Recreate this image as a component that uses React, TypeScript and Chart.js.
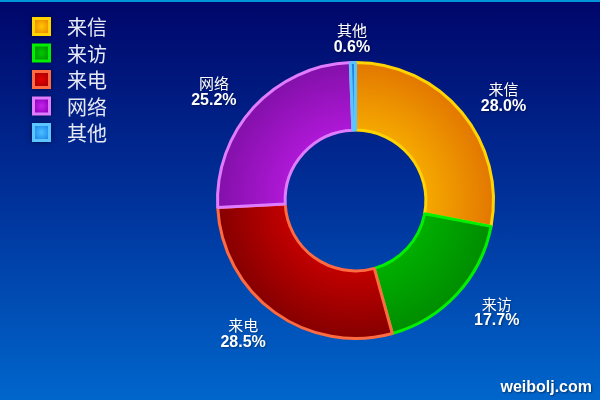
import { useEffect, useRef } from 'react';
import { Chart, ArcElement, DoughnutController } from 'chart.js';

Chart.register(ArcElement, DoughnutController);

const categories = ['来信', '来访', '来电', '网络', '其他'];
const shares = [28.0, 17.7, 28.5, 25.2, 0.6];
const borderColors = ['#ffd400', '#00f000', '#ff6a40', '#e07cff', '#5cc4ff'];
const innerColors = ['#f6aa00', '#00b000', '#c40000', '#b018d8', '#40aaff'];
const outerColors = ['#e27600', '#008c00', '#840000', '#8210a8', '#1a80e0'];
const legendCenters = ['#ffc000', '#00c400', '#e00000', '#c020e8', '#48b8ff'];
const legendEdges = ['#e88400', '#008a00', '#a00000', '#8a00b8', '#1a86e8'];

const labelPlugin = {
  id: 'sliceLabels',
  afterDatasetsDraw(chart: any) {
    const ctx = chart.ctx;
    const meta = chart.getDatasetMeta(0);
    const data: number[] = chart.data.datasets[0].data;
    const total = data.reduce((a: number, b: number) => a + b, 0);
    ctx.save();
    ctx.textAlign = 'center';
    ctx.textBaseline = 'middle';
    meta.data.forEach((arc: any, i: number) => {
      const p = arc.getProps(['startAngle', 'endAngle', 'x', 'y'], true);
      const mid = (p.startAngle + p.endAngle) / 2;
      const ax = p.x + 192 * Math.cos(mid);
      const ay = p.y + 1 + 163 * Math.sin(mid);
      ctx.fillStyle = '#ffffff';
      ctx.shadowColor = 'rgba(0,0,0,0.35)';
      ctx.shadowBlur = 2;
      ctx.shadowOffsetX = 1;
      ctx.shadowOffsetY = 1;
      ctx.font = '15px "Noto Sans CJK SC", sans-serif';
      ctx.fillText(chart.data.labels[i], ax, ay - 8);
      ctx.font = 'bold 16px "Liberation Sans", Arial, sans-serif';
      ctx.fillText(((data[i] / total) * 100).toFixed(1) + '%', ax, ay + 9);
    });
    ctx.restore();
  },
};

const legendPlugin = {
  id: 'customLegend',
  afterDraw(chart: any) {
    const ctx = chart.ctx;
    const labels: string[] = chart.data.labels;
    ctx.save();
    labels.forEach((lab, i) => {
      const bx = 32;
      const by = 15 + i * 26.5;
      const s = 19;
      ctx.save();
      ctx.shadowColor = 'rgba(0,0,20,0.6)';
      ctx.shadowBlur = 5;
      ctx.fillStyle = borderColors[i];
      ctx.fillRect(bx, by, s, s);
      ctx.restore();
      const g = ctx.createRadialGradient(bx + s / 2, by + s / 2, 1, bx + s / 2, by + s / 2, s / 2);
      g.addColorStop(0, legendCenters[i]);
      g.addColorStop(1, legendEdges[i]);
      ctx.fillStyle = g;
      ctx.fillRect(bx + 3, by + 3, s - 6, s - 6);
      ctx.fillStyle = '#e6e8f4';
      ctx.font = '20px "Noto Sans CJK SC", sans-serif';
      ctx.textAlign = 'left';
      ctx.textBaseline = 'middle';
      ctx.fillText(lab, 67, by + s / 2 + 1);
    });
    ctx.fillStyle = '#ffffff';
    ctx.shadowColor = 'rgba(0,0,0,0.5)';
    ctx.shadowBlur = 2;
    ctx.shadowOffsetX = 1;
    ctx.shadowOffsetY = 1;
    ctx.font = 'bold 16px "Liberation Sans", Arial, sans-serif';
    ctx.textAlign = 'right';
    ctx.textBaseline = 'alphabetic';
    ctx.fillText('weibolj.com', 592, 390);
    ctx.restore();
  },
};

export default function App() {
  const ref = useRef<HTMLCanvasElement>(null);
  useEffect(() => {
    if (!ref.current) return;
    const chart = new Chart(ref.current, {
      type: 'doughnut',
      data: {
        labels: categories,
        datasets: [
          {
            data: shares,
            backgroundColor: (c: any) => {
              const ch = c.chart;
              const area = ch.chartArea;
              const i = c.dataIndex;
              if (!area || i === undefined) return innerColors[i ?? 0];
              const cx = (area.left + area.right) / 2;
              const cy = (area.top + area.bottom) / 2;
              const g = ch.ctx.createRadialGradient(cx, cy, 68, cx, cy, 140);
              g.addColorStop(0, innerColors[i]);
              g.addColorStop(1, outerColors[i]);
              return g;
            },
            borderColor: borderColors,
            borderWidth: 3,
            hoverOffset: 0,
          },
        ],
      },
      options: {
        responsive: false,
        animation: false,
        cutout: '51%',
        layout: { padding: { left: 216, right: 105, top: 59, bottom: 60 } },
        plugins: { legend: { display: false }, tooltip: { enabled: false } } as any,
        events: [],
      },
      plugins: [labelPlugin, legendPlugin],
    });
    return () => chart.destroy();
  }, []);
  return (
    <div
      style={{
        position: 'fixed',
        left: 0,
        top: 0,
        width: 600,
        height: 400,
        boxSizing: 'border-box',
        borderTop: '2px solid #0094d8',
        background: 'linear-gradient(to bottom, #00066a 0%, #00329a 50%, #0066cc 100%)',
      }}
    >
      <canvas ref={ref} width={600} height={398} style={{ display: 'block' }} />
    </div>
  );
}
